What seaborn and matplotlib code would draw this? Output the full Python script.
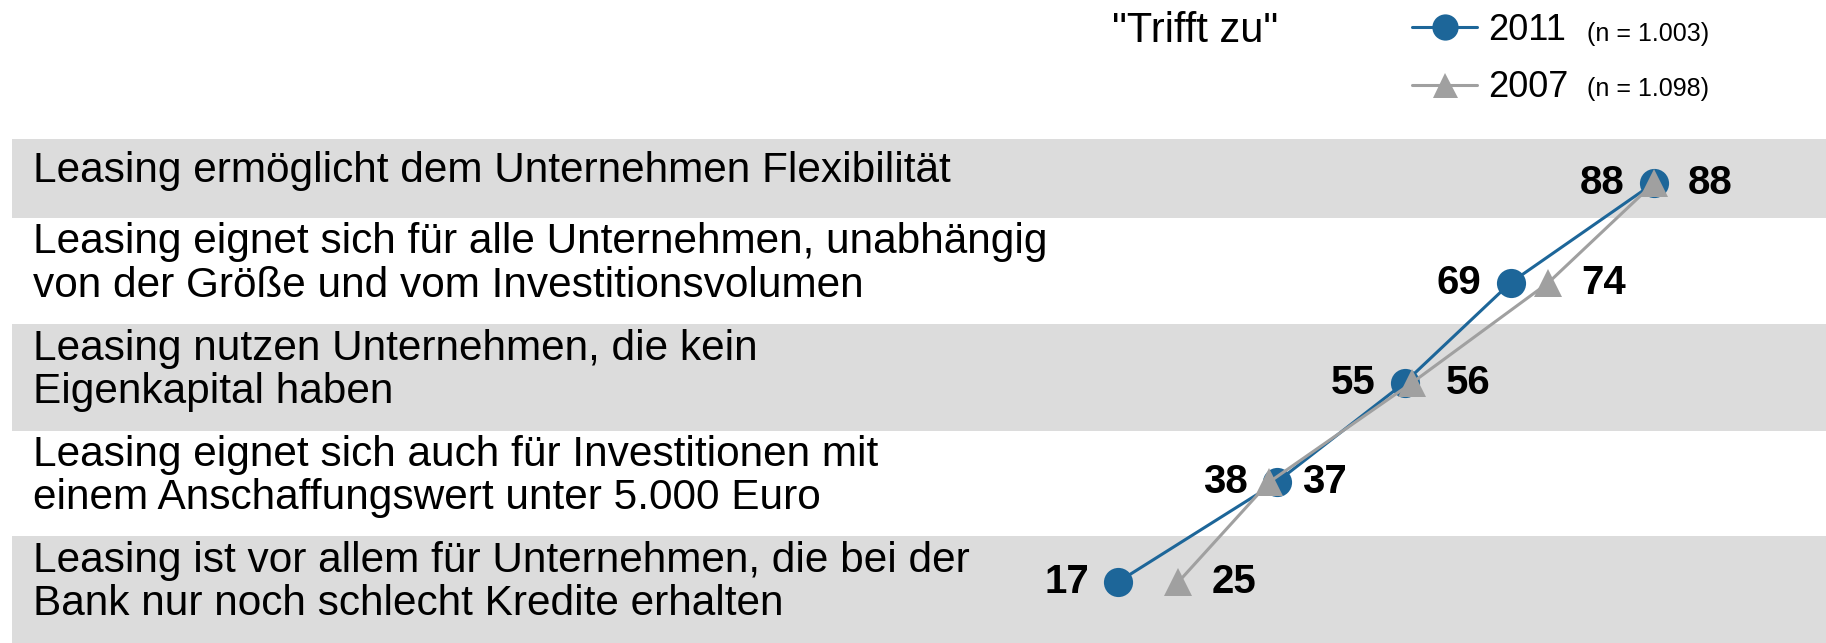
import matplotlib
matplotlib.use('Agg')
import matplotlib.pyplot as plt
import seaborn as sns
import pandas as pd

# Aussagen (von oben nach unten) und Anteile "Trifft zu" in Prozent
aussagen = [
    'Leasing ermöglicht dem Unternehmen Flexibilität',
    'Leasing eignet sich für alle Unternehmen, unabhängig\nvon der Größe und vom Investitionsvolumen',
    'Leasing nutzen Unternehmen, die kein\nEigenkapital haben',
    'Leasing eignet sich auch für Investitionen mit\neinem Anschaffungswert unter 5.000 Euro',
    'Leasing ist vor allem für Unternehmen, die bei der\nBank nur noch schlecht Kredite erhalten',
]
werte_2011 = [88, 69, 55, 38, 17]
werte_2007 = [88, 74, 56, 37, 25]
jahre = ['2011', '2007']
stichproben = ['(n = 1.003)', '(n = 1.098)']
titel = '"Trifft zu"'

rows = []
for jahr, werte in zip(jahre, [werte_2011, werte_2007]):
    for i, w in enumerate(werte):
        rows.append({'Aussage': i, 'Wert': w, 'Jahr': jahr})
df = pd.DataFrame(rows)

sns.set_style('white')
plt.rcParams['font.family'] = ['Liberation Sans', 'DejaVu Sans']
plt.rcParams['text.color'] = 'black'

W, H = 1826, 643
fig = plt.figure(figsize=(W / 100, H / 100), dpi=100)
ax = fig.add_axes([12 / W, 0, 1 - 12 / W, (H - 139) / H])

# pixel layout -> data units (points are 99.75 px apart, first at y=183)
def py(p):
    return (p - 183) / 99.75

def px(p):
    return (p - 989.6) / 7.55

ax.set_ylim(py(643), py(139))
ax.set_xlim(px(12), px(W))

band_edges = [py(p) for p in [139, 218, 324, 431, 536, 643]]
for k in range(len(aussagen)):
    if k % 2 == 0:
        ax.axhspan(band_edges[k], band_edges[k + 1], color='#dcdcdc', lw=0, zorder=0)
    mid = (band_edges[k] + band_edges[k + 1]) / 2 - py(190) + py(183)
    ax.text((33 - 12) / (W - 12), mid, aussagen[k], transform=ax.get_yaxis_transform(),
            ha='left', va='center', fontsize=30.5, linespacing=1.1, color='black')

farben = {'2011': '#1d6699', '2007': '#a0a0a0'}
sns.lineplot(data=df, x='Wert', y='Aussage', hue='Jahr', style='Jahr',
             hue_order=jahre, style_order=jahre, palette=farben,
             markers={'2011': 'o', '2007': '^'}, dashes=False,
             estimator=None, sort=False, orient='y',
             linewidth=2.2, markersize=21, markeredgewidth=0, ax=ax, legend=True)
for line in ax.get_lines():
    if line.get_marker() == '^':
        line.set_markersize(20)

for i, (a, b) in enumerate(zip(werte_2011, werte_2007)):
    ax.annotate(str(a), (a, i), xytext=(-21, 0), textcoords='offset points',
                ha='right', va='center', fontsize=29, fontweight='bold', color='black')
    ax.annotate(str(b), (b, i), xytext=(24, 0), textcoords='offset points',
                ha='left', va='center', fontsize=29, fontweight='bold', color='black')

handles, labels = ax.get_legend_handles_labels()
ax.get_legend().remove()
fig.legend(handles, labels, loc='upper left', bbox_to_anchor=(1412 / W, 1 - 13 / H),
           frameon=False, fontsize=26, handlelength=1.8, handletextpad=0.3,
           labelspacing=0.62, borderpad=0, borderaxespad=0, markerscale=0.9)
fig.text(1112 / W, 1 - 31 / H, titel, ha='left', va='center', fontsize=30)
for j, s in enumerate(stichproben):
    fig.text(1587 / W, 1 - (41 + 55 * j) / H, s, ha='left', va='baseline', fontsize=18)

ax.set_axis_off()
fig.savefig('out.png', dpi=100, facecolor='white')
